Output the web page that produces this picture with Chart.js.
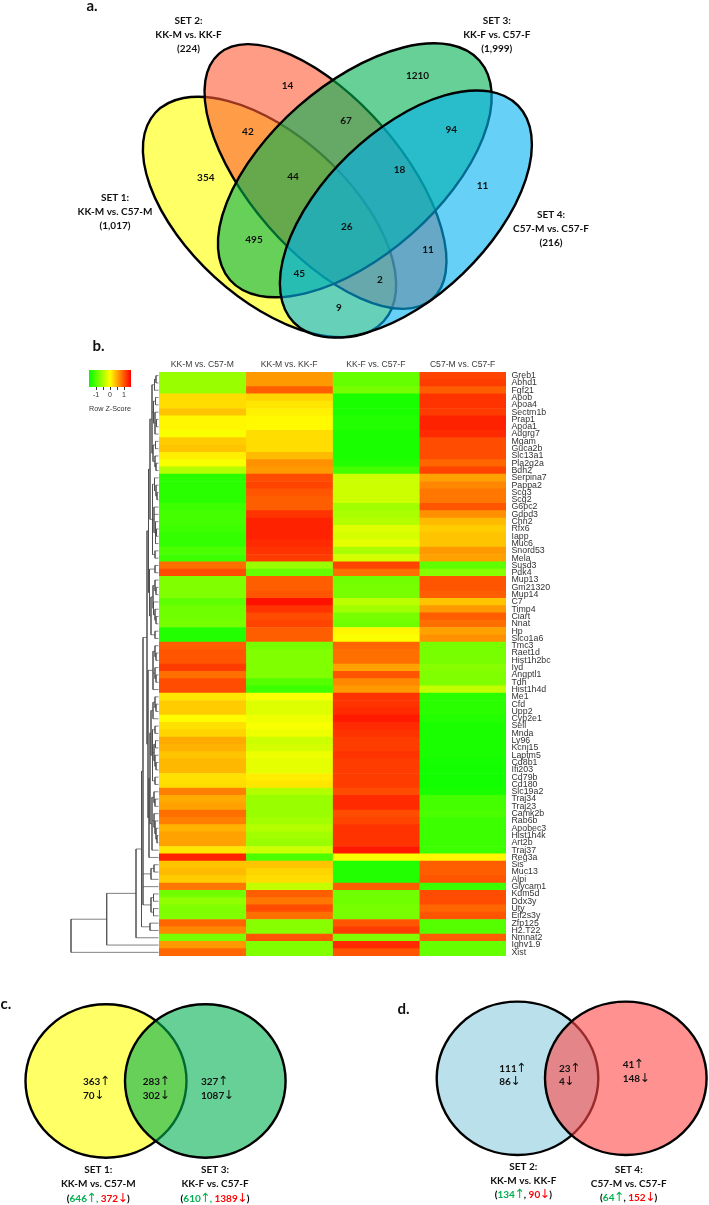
<!DOCTYPE html>
<html><head><meta charset="utf-8">
<style>
html,body{margin:0;padding:0;background:#fff;}
#page{position:relative;width:709px;height:1205px;overflow:hidden;background:#fff;}
canvas{position:absolute;display:block;}
#heat{filter:blur(0.3px);}
#key{filter:blur(0.25px);}
#over{pointer-events:none;}
</style>
<script src="https://cdn.jsdelivr.net/npm/chart.js@4"></script>
</head><body>
<div id="page">
<canvas id="heat" style="left:159px;top:355px"></canvas>
<canvas id="key" style="left:79px;top:366px"></canvas>
<canvas id="over" style="left:0;top:0"></canvas>
</div>
<script>
// ---------- data ----------
const genes=["Greb1","Abhd1","Fgf21","Apob","Apoa4","Sectm1b","Prap1","Apoa1","Adgrg7","Mgam","Guca2b","Slc13a1","Pla2g2a","Bdh2",
"Serpina7","Pappa2","Scg3","Scg2","G6pc2","Gdpd3","Chn2","Rfx6","Iapp","Muc6","Snord53","Mela","Susd3","Pdk4",
"Mup13","Gm21320","Mup14","C7","Timp4","Ciart","Nnat","Hp","Slco1a6","Tmc3","Raet1d","Hist1h2bc","Iyd","Angptl1","Tdh","Hist1h4d",
"Me1","Cfd","Upp2","Cyp2e1","Sell","Mnda","Ly96","Kcnj15","Laptm5","Cd8b1","Ifi203","Cd79b","Cd180",
"Slc19a2","Traj34","Traj23","Camk2b","Rab6b","Apobec3","Hist1h4k","Art2b","Traj37","Reg3a","Sis","Muc13","Alpi","Glycam1",
"Kdm5d","Ddx3y","Uty","Eif2s3y","Zfp125","H2.T22","Nmnat2","Ighv1.9","Xist"];
const columns=["KK-M vs. C57-M","KK-M vs. KK-F","KK-F vs. C57-F","C57-M vs. C57-F"];
const zKKMvsC57M=[-.6,-.6,-.6,.2,.2,.35,.05,.05,-.03,.3,.35,.1,-.05,-.45,
-1.25,-1.25,-1.25,-1.25,-1.15,-1.1,-1.1,-1.15,-1.2,-1.2,-1.05,-1.15,.85,1.05,
-.75,-.75,-.75,-.95,-.85,-.85,-.8,-1.3,-1.3,.95,1,1,1.15,.85,1.05,1.05,
.15,.3,.3,.02,.18,.25,.5,.45,.35,.42,.42,.18,.2,
.75,.5,.55,.85,.75,.45,.55,.55,.15,1.3,.35,.4,.3,.8,
-.85,-.65,-.75,-.75,.9,.7,-.8,.6,.9];
const zKKMvsKKF=[.6,.6,.95,.25,.15,.08,.03,.03,.2,.2,.2,.4,.65,.6,
1.05,1.1,1,.95,.95,1.2,1.3,1.3,1.3,1.25,1.2,1.15,-.6,-.9,
.95,.95,1,1.4,1.2,1.05,1.1,.95,.95,-.8,-.75,-.75,-.75,-.75,-1,-1.15,
-.05,-.2,-.2,-.1,-.05,-.1,-.3,-.25,-.1,-.15,-.15,.1,.15,
-.45,-.6,-.6,-.6,-.55,-.45,-.55,-.6,-.3,-1.05,.35,.25,.2,-.35,
.95,.8,1.05,.85,-.7,-.7,1,-.75,-.75];
const zKKFvsC57F=[-.9,-.9,-.8,-1.35,-1.35,-1.35,-1.3,-1.3,-1.35,-1.35,-1.35,-1.35,-1.3,-1.1,
-.3,-.3,-.3,-.3,-.55,-.5,-.45,-.2,-.25,-.15,-.5,-.25,1.1,.85,
-.85,-.8,-.8,-.4,-.55,-.8,-.85,.05,-.02,.9,.85,.85,.55,1,.7,.6,
1.2,1.2,1.25,1.35,1.25,1.2,1.15,1.15,1.2,1.15,1.15,1.15,1.15,
1.05,1.25,1.25,1.05,1.1,1.2,1.2,1.2,1.35,-.05,-1.3,-1.3,-1.3,.95,
-.85,-.85,-.8,-.8,1,1.15,-.75,1.25,1];
const zC57MvsC57F=[1.1,1.15,.95,1.2,1.2,1.15,1.3,1.3,1.25,1.05,1.05,1.05,.9,1.1,
.55,.7,.8,.8,1,.65,.4,.3,.35,.35,.6,.55,-.95,-.7,
1,1,.95,.35,.6,.95,.85,.55,.65,-.8,-.8,-.8,-.7,-.75,-.75,-.35,
-1.25,-1.25,-1.25,-1.3,-1.35,-1.35,-1.35,-1.35,-1.35,-1.38,-1.4,-1.4,-1.4,
-1.35,-1.1,-1.1,-1.05,-1.15,-1.15,-1.15,-1.15,-1.15,.05,.95,.95,1,-1.15,
1.05,1.05,.9,1,-1,-1,.95,-.9,-.9];
const zColumns=[zKKMvsC57M,zKKMvsKKF,zKKFvsC57F,zC57MvsC57F];

const fourWayCounts=["14","1210","42","67","94","354","44","18","11","26","495","11","45","2","9"];
const keyTicks=[-1,-.5,0,.5,1];

// ---------- layout (separate from the values) ----------
const fourWayPos=[[287.5,85.7],[417.5,75.7],[247.9,131.3],[346.1,120.7],[451.2,129.3],[205.8,178],[293,176.7],[399.5,169.7],[482.6,186],[346.7,227],[254,240],[428.1,249.7],[299.2,273.7],[379.8,279.3],[338.9,307.3]];
const ellipses=[
 {cx:269.5,cy:217,rx:154.6,ry:81.3,rot:42.4,fill:'rgba(255,255,0,.6)'},
 {cx:325.5,cy:176.5,rx:162.5,ry:75.8,rot:49,fill:'rgba(255,90,52,.6)'},
 {cx:354.8,cy:170.3,rx:166.1,ry:85.3,rot:-41.3,fill:'rgba(0,176,80,.6)'},
 {cx:405.9,cy:214,rx:156,ry:82.5,rot:-44,fill:'rgba(0,176,240,.6)'},
 {cx:106,cy:1081,rx:80.5,ry:76.7,rot:0,fill:'rgba(255,255,0,.6)'},
 {cx:205.3,cy:1081,rx:80.3,ry:76.7,rot:0,fill:'rgba(0,176,80,.6)'},
 {cx:517.5,cy:1078.3,rx:80.8,ry:76.7,rot:0,fill:'rgba(140,203,222,.6)'},
 {cx:625.8,cy:1078.3,rx:80.8,ry:76.7,rot:0,fill:'rgba(255,72,72,.6)'}
];
const setBlocks=[
 {x:188.5,y:[20.7,34.7,48.7],t:["SET 2:","KK-M vs. KK-F","(224)"]},
 {x:496.8,y:[20.7,34.7,48.7],t:["SET 3:","KK-F vs. C57-F","(1,999)"]},
 {x:115,y:[197.7,211.7,226],t:["SET 1:","KK-M vs. C57-M","(1,017)"]},
 {x:551,y:[214.3,228.3,242.3],t:["SET 4:","C57-M vs. C57-F","(216)"]},
 {x:98.3,y:[1170,1184],t:["SET 1:","KK-M vs. C57-M"]},
 {x:215,y:[1170,1184],t:["SET 3:","KK-F vs. C57-F"]},
 {x:523.3,y:[1167,1181],t:["SET 2:","KK-M vs. KK-F"]},
 {x:628.7,y:[1169.3,1183.3],t:["SET 4:","C57-M vs. C57-F"]}
];
const panelLetters=[["a.",92,6],["b.",98.5,346],["c.",6,1004],["d.",403.5,1009]];
const pairCounts=[
 {x:83,y:1081.7,t:"363↑"},{x:83,y:1095.7,t:"70↓"},
 {x:142.7,y:1081.7,t:"283↑"},{x:142.7,y:1095.7,t:"302↓"},
 {x:201,y:1081.7,t:"327↑"},{x:201,y:1095.7,t:"1087↓"},
 {x:499.3,y:1068.3,t:"111↑"},{x:499.3,y:1082,t:"86↓"},
 {x:559,y:1068.3,t:"23↑"},{x:559,y:1082,t:"4↓"},
 {x:622.7,y:1064.7,t:"41↑"},{x:622.7,y:1078.7,t:"148↓"}
];
const GREEN='#00b050',RED='#ff0000',BLK='#000';
const captions=[
 {x:98.3,y:1198.3,s:[["(",BLK],["646↑, ",GREEN],["372↓",RED],[")",BLK]]},
 {x:215,y:1198.3,s:[["(",BLK],["610↑, ",GREEN],["1389↓",RED],[")",BLK]]},
 {x:523.3,y:1195,s:[["(",BLK],["134↑",GREEN],[", ",BLK],["90↓",RED],[")",BLK]]},
 {x:628.7,y:1197.3,s:[["(",BLK],["64↑",GREEN],[", ",BLK],["152↓",RED],[")",BLK]]}
];

// dendrogram: merge depth of each cluster, leaves are gene indexes
const c=(h,...kids)=>({h,kids});
const t1=c(152,c(154.5,c(156,0,1),2),c(153.5,c(155.5,3,4),c(155,5,c(156.5,6,7),8)),c(153,c(155.5,9,10),c(155,11,c(156,12,13))));
const t2=c(152.5,c(154.5,14,c(156,15,c(157,16,17))),c(154,18,19,c(155.5,20,c(156.5,21,22),23)),c(155,24,25));
const t3=c(155,26,27);
const t4=c(151,c(153,c(155,28,c(156,29,30)),c(153.5,31,c(155,32,c(156,33,34)))),c(155,35,36));
const t5=c(153,c(155,37,c(156,38,39)),c(155,40,c(156,41,42)),43);
const t6=c(151,c(153,c(155,44,c(156,45,46)),47),c(152.5,c(155,48,49),c(154,c(155.5,50,51),c(155,52,c(156,53,54))),c(155,55,56)));
const t7=c(152,c(154,57,c(155,58,59)),c(154,60,c(155,61,c(156,62,c(157,63,64)))),65);
const upper=c(147,c(148.5,c(150,t1,t2),c(149.5,t3,t4)),c(148,t5,c(149,c(150,t6,t7),66)));
const tree=c(71,c(106.7,c(136,c(141.5,c(143,upper,c(151,c(154,67,68),69),70,c(151,c(153.5,71,72),c(153.5,73,74))),c(150,75,76)),77),78),79);

const HEAT_TOP=372,HEAT_H=584,LEAF_X=158.5;
const rowY=i=>HEAT_TOP+(i+.5)*HEAT_H/genes.length;
const dendroPts=[];
function seg(x0,y0,x1,y1){dendroPts.push({x:x0,y:y0},{x:x1,y:y1},{x:null,y:null});}
function walk(n){
  if(typeof n==='number')return{x:LEAF_X,y:rowY(n)};
  const k=n.kids.map(walk),ys=k.map(p=>p.y),a=Math.min(...ys),b=Math.max(...ys);
  seg(n.h,a,n.h,b);k.forEach(p=>seg(n.h,p.y,p.x,p.y));
  return{x:n.h,y:(a+b)/2};
}
walk(tree);

function zColor(z){
  const t=Math.max(-1,Math.min(1,z/1.5));
  return t<0?`rgb(${Math.round(255*(1+t))},255,0)`:`rgb(255,${Math.round(255*(1-t))},0)`;
}

// ---------- heat map ----------
const HEAT_FONT='"Liberation Sans",Arial,sans-serif';
document.getElementById('heat').width=550;document.getElementById('heat').height=601;
new Chart(document.getElementById('heat'),{
  type:'bar',
  data:{labels:genes,datasets:columns.map((name,ci)=>({
    label:name,grouped:false,barPercentage:1,categoryPercentage:1,borderWidth:0,
    parsing:{xAxisKey:'span',yAxisKey:'gene'},
    data:genes.map((g,i)=>({gene:g,span:[ci,ci+1],z:zColumns[ci][i]})),
    backgroundColor:ctx=>ctx.raw?zColor(ctx.raw.z):'#fff'
  }))},
  options:{indexAxis:'y',responsive:false,animation:false,
    layout:{padding:0},
    plugins:{legend:{display:false},tooltip:{enabled:false}},
    scales:{
      x:{type:'linear',position:'top',min:0,max:4,
        grid:{display:false,drawTicks:false},border:{display:false},
        afterBuildTicks:s=>{s.ticks=[.5,1.5,2.5,3.5].map(value=>({value}));},
        afterFit:s=>{s.height=17;s.paddingLeft=0;s.paddingRight=0;},
        ticks:{autoSkip:false,maxRotation:0,padding:2,color:'#3a3a3a',font:{family:HEAT_FONT,size:8.6},callback:(v,i)=>columns[i]}},
      y:{type:'category',position:'right',
        grid:{display:false,drawTicks:false},border:{display:false},
        afterFit:s=>{s.width=203;s.paddingTop=0;s.paddingBottom=0;},
        ticks:{autoSkip:false,padding:5.5,color:'#333',font:{family:HEAT_FONT,size:8.8},crossAlign:'near'}}
    }}
});

// ---------- colour key ----------
document.getElementById('key').width=62;document.getElementById('key').height=50;
new Chart(document.getElementById('key'),{
  type:'bar',
  data:{labels:['Row Z-Score'],datasets:[{
    data:[[-1.5,1.5]],barPercentage:1,categoryPercentage:1,borderWidth:0,
    backgroundColor:ctx=>{
      const a=ctx.chart.chartArea;if(!a)return '#ff0';
      const g=ctx.chart.ctx.createLinearGradient(a.left,0,a.right,0);
      g.addColorStop(0,zColor(-1.5));g.addColorStop(.5,zColor(0));g.addColorStop(1,zColor(1.5));return g;}
  }]},
  options:{indexAxis:'y',responsive:false,animation:false,
    layout:{padding:{left:10,right:10,top:4,bottom:0}},
    plugins:{legend:{display:false},tooltip:{enabled:false}},
    scales:{
      y:{display:false},
      x:{type:'linear',min:-1.5,max:1.5,border:{display:false},
        grid:{drawOnChartArea:false,drawTicks:true,tickLength:3,color:'#333'},
        afterBuildTicks:s=>{s.ticks=keyTicks.map(value=>({value}));},
        afterFit:s=>{s.height=29;s.paddingLeft=0;s.paddingRight=0;},
        title:{display:true,text:'Row Z-Score',color:'#333',font:{family:HEAT_FONT,size:8},padding:{top:1,bottom:2}},
        ticks:{autoSkip:false,maxRotation:0,padding:1,color:'#333',font:{family:HEAT_FONT,size:7},
          callback:v=>Number.isInteger(v)?String(v):''}}
    }}
});

// ---------- overlay: Venn diagrams, dendrogram and text ----------
const LBLB='700 10px Lato,"Open Sans",sans-serif';
const ARROW='400 12.5px "DejaVu Sans",sans-serif';
// split a label so the arrows can use a font that has them at the reference size
const runs=t=>t.split(/([↑↓])/).filter(Boolean);
function runsWidth(g,t){return runs(t).reduce((a,r)=>{g.font=/[↑↓]/.test(r)?ARROW:LBLB;return a+g.measureText(r).width-(/[↑↓]/.test(r)?1.5:0);},0);}
function drawRuns(g,t,x,y){
  runs(t).forEach(r=>{
    const arrow=/[↑↓]/.test(r);g.font=arrow?ARROW:LBLB;
    g.fillText(r,arrow?x-.7:x,y);
    x+=g.measureText(r).width-(arrow?1.5:0);
  });
  return x;
}
const vennPlugin={id:'venn',
  afterDatasetsDraw(chart){
    const g=chart.ctx,X=chart.scales.x,Y=chart.scales.y;
    const px=v=>X.getPixelForValue(v),py=v=>Y.getPixelForValue(v);
    g.save();
    ellipses.forEach(e=>{
      g.beginPath();
      g.ellipse(px(e.cx),py(e.cy),e.rx,e.ry,e.rot*Math.PI/180,0,Math.PI*2);
      g.fillStyle=e.fill;g.fill();
      g.lineWidth=2.4;g.strokeStyle='#000';g.stroke();
    });
    g.textBaseline='middle';g.fillStyle='#111';
    g.textAlign='center';g.font=LBLB;
    fourWayCounts.forEach((t,i)=>g.fillText(t,px(fourWayPos[i][0]),py(fourWayPos[i][1])));
    setBlocks.forEach(b=>b.t.forEach((t,i)=>g.fillText(t,px(b.x),py(b.y[i]))));
    g.textAlign='left';
    pairCounts.forEach(p=>drawRuns(g,p.t,px(p.x),py(p.y)));
    captions.forEach(cp=>{
      const w=cp.s.reduce((a,s)=>a+runsWidth(g,s[0]),0);
      let x=px(cp.x)-w/2;
      cp.s.forEach(s=>{g.fillStyle=s[1];x=drawRuns(g,s[0],x,py(cp.y));});
    });
    g.fillStyle='#111';g.textAlign='center';g.font='700 15px Lato,"Open Sans",sans-serif';
    panelLetters.forEach(l=>g.fillText(l[0],px(l[1]),py(l[2])));
    g.restore();
  }};
document.getElementById('over').width=709;document.getElementById('over').height=1205;
new Chart(document.getElementById('over'),{
  type:'scatter',
  data:{datasets:[{label:'Dendrogram',data:dendroPts,showLine:true,spanGaps:false,borderColor:'#4a4a4a',borderWidth:.7,pointRadius:0,tension:0}]},
  options:{responsive:false,animation:false,layout:{padding:0},
    plugins:{legend:{display:false},tooltip:{enabled:false}},
    scales:{x:{type:'linear',min:0,max:709,display:false},y:{type:'linear',min:0,max:1205,reverse:true,display:false}}},
  plugins:[vennPlugin]
});
</script>
</body></html>
